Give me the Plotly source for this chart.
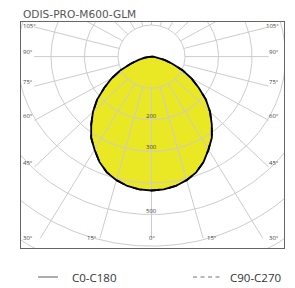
import numpy as np
import plotly.graph_objects as go

# ---------------- data ----------------
title_text = "ODIS-PRO-M600-GLM"
gamma_deg = [0, 5, 10, 15, 20, 25, 30, 35, 40, 45, 50, 55, 60, 65, 70, 75, 80, 85, 90]
c0_c180 = [424, 422, 416, 405, 390, 368, 340, 314, 280, 247, 212, 172, 137, 102, 66, 40, 20, 6, 0]
c90_c270 = [424, 422, 416, 405, 390, 368, 340, 314, 280, 247, 212, 172, 137, 102, 66, 40, 20, 6, 0]
series_names = ["C0-C180", "C90-C270"]
ring_values = [100, 200, 300, 400, 500, 600, 700]
ring_labels = [200, 300, 500]
spoke_angles = [0, 15, 30, 45, 60, 75, 90, 105, 120, 135, 150, 165, 180]
spoke_labels = [0, 15, 30, 45, 60, 75, 90, 105]

# ---------------- layout constants ----------------
OFF = 8  # default body margin of the html page
W, H = 295 - OFF, 288 - OFF
ML, MR, MT, MB = 21 - OFF, 11, 22 - OFF, 40
XR = [-389.6, 395.5]
YR = [-606.0, 109.5]
LIM_X, LIM_Y = 350.0, -575.0  # limit box for spoke ends
GRID = "#cccccc"
FILL = "#EAE724"

fig = go.Figure()


def curve_xy(vals):
    g = np.array(gamma_deg, dtype=float)
    v = np.array(vals, dtype=float)
    ang = np.concatenate([-g[::-1], g[1:]])
    r = np.concatenate([v[::-1], v[1:]])
    t = np.radians(ang)
    return r * np.sin(t), -r * np.cos(t)


# yellow fill
fx, fy = curve_xy(c0_c180)
fig.add_trace(go.Scatter(x=fx, y=fy, mode="lines", fill="toself", fillcolor=FILL,
                         line=dict(width=0), hoverinfo="skip", showlegend=False))

# rings
th = np.linspace(0, 2 * np.pi, 361)
for rv in ring_values:
    fig.add_trace(go.Scatter(x=rv * np.sin(th), y=rv * np.cos(th), mode="lines",
                             line=dict(color=GRID, width=1), hoverinfo="skip", showlegend=False))


def spoke_end(a_deg, side):
    t = np.radians(a_deg)
    dx, dy = side * np.sin(t), -np.cos(t)
    cands = []
    if abs(dx) > 1e-9:
        cands.append((LIM_X / abs(dx), "side"))
    if dy < -1e-9:
        cands.append((LIM_Y / dy, "bottom"))
    if dy > 1e-9:
        cands.append((YR[1] * 1.5 / dy, "top"))
    r, kind = min(cands, key=lambda c: c[0])
    return r * dx, r * dy, kind


# spokes
for a in spoke_angles:
    for side in ([-1, 1] if a not in (0, 180) else [1]):
        ex, ey, kind = spoke_end(a, side)
        t = np.radians(a)
        sx, sy = 100 * side * np.sin(t), -100 * np.cos(t)
        fig.add_trace(go.Scatter(x=[sx, ex], y=[sy, ey], mode="lines",
                                 line=dict(color=GRID, width=1), hoverinfo="skip", showlegend=False))

# curve outlines
for vals, name, dash in [(c0_c180, series_names[0], "solid"), (c90_c270, series_names[1], "dash")]:
    cx, cy = curve_xy(vals)
    fig.add_trace(go.Scatter(x=cx, y=cy, mode="lines", name=name,
                             line=dict(color="black", width=1.8, dash=dash),
                             hoverinfo="skip", showlegend=False))

ann = []
lab_font = dict(family="Open Sans", size=6, color="#444")
for rv in ring_labels:
    ann.append(dict(x=0, y=-rv, xref="x", yref="y", text=str(rv), showarrow=False,
                    font=lab_font, xanchor="center", yanchor="middle", yshift=4))

for a in spoke_labels:
    for side in ([-1, 1] if a != 0 else [1]):
        ex, ey, kind = spoke_end(a, side)
        if kind == "side" or abs(ex) > 300:
            if kind == "side":
                yy, ys = ey, (1 if ey > 60 else 4.5)
            else:
                yy, ys = LIM_Y, 0
            if side < 0:
                ann.append(dict(x=XR[0], y=yy, xref="x", yref="y", text=f"{a}°", showarrow=False,
                                font=lab_font, xanchor="left", yanchor="middle", yshift=ys, xshift=0))
            else:
                ann.append(dict(x=XR[1], y=yy, xref="x", yref="y", text=f"{a}°", showarrow=False,
                                font=lab_font, xanchor="right", yanchor="middle", yshift=ys, xshift=-3))
        else:
            if a == 0:
                ann.append(dict(x=0, y=LIM_Y, xref="x", yref="y", text=f"{a}°", showarrow=False,
                                font=lab_font, xanchor="center", yanchor="middle"))
            elif side < 0:
                ann.append(dict(x=ex, y=LIM_Y, xref="x", yref="y", text=f"{a}°", showarrow=False,
                                font=lab_font, xanchor="right", yanchor="middle", xshift=-1))
            else:
                ann.append(dict(x=ex, y=LIM_Y, xref="x", yref="y", text=f"{a}°", showarrow=False,
                                font=lab_font, xanchor="left", yanchor="middle", xshift=2))

PW, PH = W - ML - MR, H - MT - MB


def px2paper(px, py):
    # px, py are reference-window pixels
    return (px - OFF - ML) / PW, (H - MB - (py - OFF)) / PH


tx, ty = px2paper(21.5, 13.5)
ann.append(dict(x=tx, y=ty, xref="paper", yref="paper", text=title_text, showarrow=False,
                font=dict(family="DejaVu Sans", size=10.6, color="#555"),
                xanchor="left", yanchor="middle", borderpad=0))

shapes = []
leg_y = 277
for (x0, x1, tx0, dash), name in zip([(38, 58, 70, "solid"), (193, 223, 228, "4px,3.5px")], series_names):
    p0 = px2paper(x0, leg_y)
    p1 = px2paper(x1, leg_y)
    shapes.append(dict(type="line", xref="paper", yref="paper", x0=p0[0], x1=p1[0], y0=p0[1], y1=p1[1],
                       line=dict(color="#777", width=1.2, dash=dash)))
    pt = px2paper(tx0, leg_y)
    ann.append(dict(x=pt[0], y=pt[1], xref="paper", yref="paper", text=name, showarrow=False,
                    font=dict(family="Open Sans", size=11.5, color="#333"),
                    xanchor="left", yanchor="middle"))

fig.update_layout(
    width=W, height=H,
    margin=dict(l=ML, r=MR, t=MT, b=MB, pad=0),
    paper_bgcolor="white", plot_bgcolor="white",
    xaxis=dict(range=XR, showgrid=False, zeroline=False, showticklabels=False, ticks="",
               showline=True, mirror=True, linecolor="#666", linewidth=1, fixedrange=True),
    yaxis=dict(range=YR, showgrid=False, zeroline=False, showticklabels=False, ticks="",
               showline=True, mirror=True, linecolor="#666", linewidth=1, fixedrange=True),
    annotations=ann, shapes=shapes, showlegend=False,
)

fig.write_html("out.html")
